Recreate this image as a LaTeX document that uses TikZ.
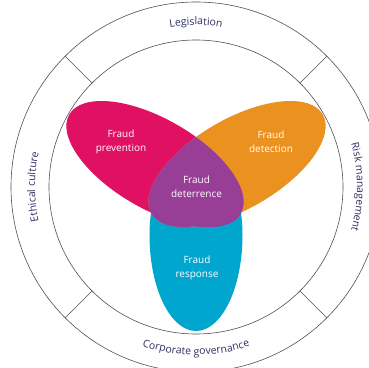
\documentclass[tikz,border=0pt]{standalone}
\usepackage{fontspec}
\setmainfont{Open Sans}
\usetikzlibrary{decorations.text}
\definecolor{fmag}{RGB}{224,16,98}
\definecolor{forange}{RGB}{234,145,32}
\definecolor{fblue}{RGB}{0,166,206}
\definecolor{fpurple}{RGB}{153,62,150}
\definecolor{ringtxt}{RGB}{45,48,95}
\definecolor{ringgray}{RGB}{80,80,85}
\begin{document}
\begin{tikzpicture}[x=1pt,y=1pt,
  petaltext/.style={text=white, align=center, font=\fontsize{10}{14.5}\selectfont},
  ringline/.style={draw=ringgray, line width=0.6pt},
  ringlabel/.style={decorate, decoration={text along path, text align=center, text={#1}}},
  magrot/.style={rotate around={-30:(155,203)}},
  orgrot/.style={rotate around={30:(237,203)}}]
\def\bluepath{(149.5,132) arc[start angle=180, end angle=0, x radius=46.5pt, y radius=88pt]
  arc[start angle=0, end angle=-180, x radius=46.5pt, y radius=96pt] -- cycle}
\def\magpath{(155,203) ellipse[x radius=99pt, y radius=45pt]}
\def\orgpath{(237,203) ellipse[x radius=99pt, y radius=45pt]}
\useasboundingbox (0,0) rectangle (369,367);
\clip (0,0) rectangle (369,367);
\coordinate (c) at (196,180);
% ring
\draw[ringline] (c) circle[radius=185pt];
\draw[ringline] (c) circle[radius=147pt];
\foreach \a in {45,135,225,315}
  \draw[ringline] ([shift={(\a:147pt)}]c) -- ([shift={(\a:185pt)}]c);
% ring labels
\path[ringlabel={|\color{ringtxt}\fontsize{10.5}{12}\selectfont|Legislation}]
  ([shift={(120:162pt)}]c) arc[start angle=120, end angle=60, radius=162pt];
\path[ringlabel={|\color{ringtxt}\fontsize{10.5}{12}\selectfont|Ethical culture}]
  ([shift={(210:161pt)}]c) arc[start angle=210, end angle=150, radius=161pt];
\path[ringlabel={|\color{ringtxt}\fontsize{10.5}{12}\selectfont|Risk management}]
  ([shift={(30:161pt)}]c) arc[start angle=30, end angle=-30, radius=161pt];
\path[ringlabel={|\color{ringtxt}\fontsize{10.5}{12}\selectfont|Corporate governance}]
  ([shift={(240:168pt)}]c) arc[start angle=240, end angle=300, radius=168pt];
% petals
\fill[fblue] \bluepath;
\fill[fmag, magrot] \magpath;
\fill[forange, orgrot] \orgpath;
% overlaps
\begin{scope}
  \clip[magrot] \magpath;
  \fill[fpurple, orgrot] \orgpath;
  \fill[fpurple] \bluepath;
\end{scope}
\begin{scope}
  \clip[orgrot] \orgpath;
  \fill[fpurple] \bluepath;
\end{scope}
% petal labels
\node[petaltext] (prev) at (121,225) {Fraud\\prevention};
\node[petaltext] (det) at (271,225) {Fraud\\detection};
\node[petaltext] (deter) at (196.5,180) {Fraud\\deterrence};
\node[petaltext] (resp) at (197,99) {Fraud\\response};
\end{tikzpicture}
\end{document}
